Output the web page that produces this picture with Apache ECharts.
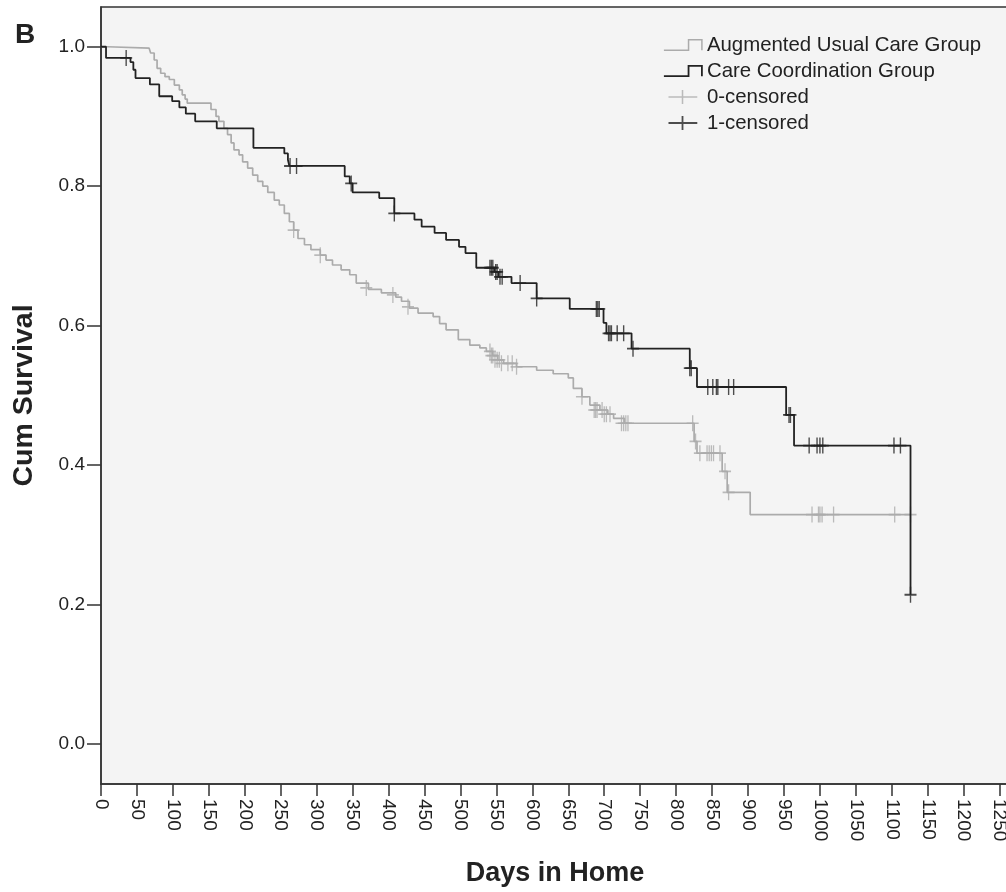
<!DOCTYPE html>
<html>
<head>
<meta charset="utf-8">
<title>Cum Survival - Days in Home</title>
<script src="https://cdn.jsdelivr.net/npm/echarts@6.0.0/dist/echarts.min.js"></script>
<style>
  html, body { margin: 0; padding: 0; background: #fff; }
  #chart { width: 1006px; height: 892px; }
</style>
</head>
<body>
<div id="chart"></div>
<script>
// [day, survival] after each drop
const usualCareSteps = [
  [0, 1.0], [9, 0.998], [67, 0.996], [69, 0.991], [74, 0.981], [78, 0.969], [83, 0.962],
  [89, 0.957], [95, 0.953], [102, 0.945], [109, 0.938], [113, 0.931], [117, 0.925],
  [120, 0.919], [153, 0.910], [160, 0.900], [164, 0.893], [171, 0.883], [176, 0.874],
  [181, 0.862], [185, 0.852], [192, 0.845], [197, 0.835], [204, 0.826], [211, 0.816],
  [218, 0.807], [225, 0.800], [232, 0.791], [241, 0.780], [248, 0.773], [255, 0.761],
  [262, 0.749], [268, 0.737], [274, 0.725], [283, 0.716], [292, 0.709], [305, 0.701],
  [313, 0.694], [322, 0.687], [334, 0.680], [346, 0.673], [355, 0.661], [372, 0.652],
  [390, 0.647], [410, 0.641], [418, 0.635], [429, 0.625], [441, 0.618], [462, 0.613],
  [471, 0.603], [480, 0.594], [497, 0.580], [513, 0.572], [527, 0.568], [536, 0.563],
  [545, 0.557], [552, 0.551], [560, 0.546], [578, 0.541], [606, 0.536], [629, 0.531],
  [650, 0.525], [657, 0.510], [669, 0.498], [680, 0.486], [694, 0.479], [705, 0.473],
  [713, 0.467], [728, 0.460], [825, 0.434], [829, 0.417], [864, 0.391], [871, 0.361],
  [903, 0.329], [1126, 0.329]
]
const careCoordSteps = [
  [0, 1.0], [7, 0.984], [41, 0.978], [45, 0.967], [48, 0.955], [68, 0.946], [81, 0.929],
  [99, 0.922], [109, 0.913], [118, 0.904], [131, 0.893], [161, 0.883], [212, 0.855],
  [255, 0.847], [260, 0.838], [262, 0.829], [339, 0.814], [346, 0.804], [350, 0.791],
  [387, 0.783], [408, 0.761], [436, 0.752], [446, 0.742], [464, 0.733], [480, 0.723],
  [498, 0.713], [507, 0.704], [522, 0.683], [547, 0.677], [553, 0.670], [571, 0.661],
  [606, 0.639], [652, 0.624], [699, 0.604], [703, 0.589], [738, 0.567], [819, 0.539],
  [829, 0.512], [953, 0.472], [964, 0.428], [1126, 0.214]
]
// censored observations [day, survival]
const usualCareCensored = [
  [268, 0.737], [305, 0.701], [369, 0.654], [406, 0.644], [427, 0.627], [541, 0.563],
  [543, 0.557], [545, 0.557], [548, 0.551], [551, 0.551], [554, 0.551], [557, 0.546],
  [566, 0.546], [572, 0.546], [578, 0.541], [669, 0.498], [686, 0.479], [688, 0.479],
  [690, 0.479], [697, 0.479], [700, 0.473], [703, 0.473], [708, 0.473], [724, 0.460],
  [727, 0.460], [730, 0.460], [733, 0.460], [823, 0.460], [827, 0.434], [833, 0.417],
  [843, 0.417], [846, 0.417], [849, 0.417], [852, 0.417], [861, 0.417], [868, 0.391],
  [873, 0.361], [989, 0.329], [998, 0.329], [1000, 0.329], [1003, 0.329], [1019, 0.329],
  [1104, 0.329], [1126, 0.329]
]
const careCoordCensored = [
  [35, 0.984], [263, 0.829], [272, 0.829], [348, 0.804], [408, 0.761], [541, 0.683],
  [543, 0.683], [545, 0.683], [549, 0.677], [551, 0.677], [555, 0.670], [558, 0.670],
  [583, 0.661], [606, 0.639], [689, 0.624], [691, 0.624], [693, 0.624], [706, 0.589],
  [708, 0.589], [710, 0.589], [718, 0.589], [727, 0.589], [740, 0.567], [819, 0.539],
  [821, 0.539], [844, 0.512], [851, 0.512], [856, 0.512], [858, 0.512], [873, 0.512],
  [880, 0.512], [957, 0.472], [959, 0.472], [985, 0.428], [996, 0.428], [1000, 0.428],
  [1004, 0.428], [1103, 0.428], [1112, 0.428], [1126, 0.214]
]
const dayTicks = [0, 50, 100, 150, 200, 250, 300, 350, 400, 450, 500, 550, 600, 650,
  700, 750, 800, 850, 900, 950, 1000, 1050, 1100, 1150, 1200, 1250]
const survivalTicks = [0, 0.2, 0.4, 0.6, 0.8, 1.0]

const font = "'Liberation Sans', Arial, sans-serif"
const grey = '#ababab'
const black = '#222'
const plus = 'path://M0,8H12M6,0V16'
const stepIcon = 'path://M0,10H24V0H37V10'
const plusIcon = 'path://M0,9H37M18,0V18'

const chart = echarts.init(document.getElementById('chart'))
chart.setOption({
  animation: false,
  title: {
    text: 'B', left: 10, top: 16,
    textStyle: { fontFamily: font, fontSize: 28, fontWeight: 'bold', color: black }
  },
  grid: {
    left: 101, top: 7, width: 908, height: 777,
    outerBoundsMode: 'none', containLabel: false,
    show: true, backgroundColor: '#f4f4f4', borderColor: '#333', borderWidth: 1.5
  },
  legend: {
    orient: 'vertical', left: 658, top: 30,
    itemWidth: 38, itemHeight: 14, itemGap: 6,
    textStyle: { fontFamily: font, fontSize: 20.4, lineHeight: 20, color: black },
    data: [
      { name: 'Augmented Usual Care Group', icon: stepIcon,
        itemStyle: { color: 'transparent', borderColor: grey, borderWidth: 1.5 } },
      { name: 'Care Coordination Group', icon: stepIcon,
        itemStyle: { color: 'transparent', borderColor: black, borderWidth: 1.8 } },
      { name: '0-censored', icon: plusIcon,
        itemStyle: { color: 'transparent', borderColor: grey, borderWidth: 1.5 } },
      { name: '1-censored', icon: plusIcon,
        itemStyle: { color: 'transparent', borderColor: black, borderWidth: 1.8 } }
    ]
  },
  xAxis: {
    type: 'value', min: 0, max: 1263,
    name: 'Days in Home', nameLocation: 'middle', nameGap: 76,
    nameTextStyle: { fontFamily: font, fontSize: 27, fontWeight: 'bold', color: black },
    axisLine: { onZero: false, lineStyle: { color: '#333', width: 1.5 } },
    axisTick: { customValues: dayTicks, length: 12, lineStyle: { color: '#333', width: 1.5 } },
    axisLabel: {
      customValues: dayTicks, rotate: -90, margin: 15,
      fontFamily: font, fontSize: 19, color: black,
      formatter: v => String(v)
    },
    splitLine: { show: false }
  },
  yAxis: {
    type: 'value', min: -0.0574, max: 1.057,
    name: 'Cum Survival', nameLocation: 'middle', nameGap: 62,
    nameTextStyle: { fontFamily: font, fontSize: 28.5, fontWeight: 'bold', color: black },
    axisLine: { show: true, onZero: false, lineStyle: { color: '#333', width: 1.5 } },
    axisTick: { show: true, customValues: survivalTicks, length: 14, lineStyle: { color: '#333', width: 1.5 } },
    axisLabel: {
      customValues: survivalTicks, margin: 16,
      fontFamily: font, fontSize: 19, color: black,
      formatter: v => v.toFixed(1)
    },
    splitLine: { show: false }
  },
  series: [
    {
      name: 'Augmented Usual Care Group', type: 'line', step: 'end',
      data: usualCareSteps, showSymbol: false, symbol: 'none',
      lineStyle: { color: grey, width: 1.7 }, itemStyle: { color: grey }, z: 2
    },
    {
      name: 'Care Coordination Group', type: 'line', step: 'end',
      data: careCoordSteps, showSymbol: false, symbol: 'none',
      lineStyle: { color: black, width: 1.8 }, itemStyle: { color: black }, z: 4
    },
    {
      name: '0-censored', type: 'scatter', data: usualCareCensored,
      symbol: plus, symbolSize: [12, 16],
      itemStyle: { color: 'transparent', borderColor: grey, borderWidth: 1.5 }, z: 3
    },
    {
      name: '1-censored', type: 'scatter', data: careCoordCensored,
      symbol: plus, symbolSize: [12, 16],
      itemStyle: { color: 'transparent', borderColor: black, borderWidth: 1.6 }, z: 5
    }
  ]
})
</script>
</body>
</html>
